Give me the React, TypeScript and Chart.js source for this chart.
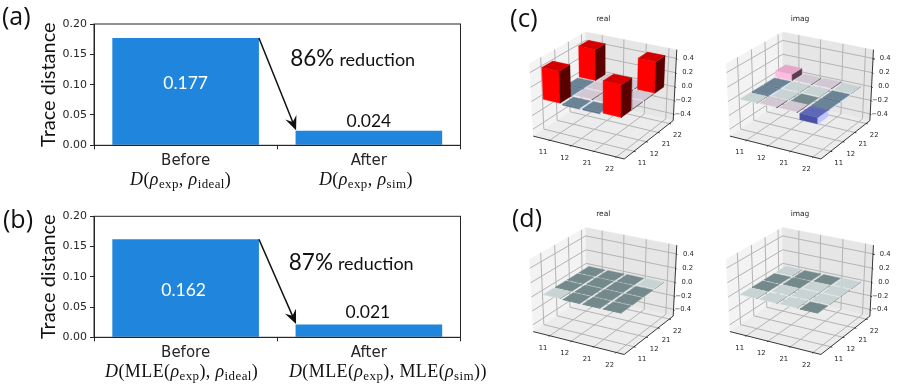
import { useEffect, useRef } from "react";
import { Chart, registerables } from "chart.js";

Chart.register(...registerables);

const categories = ["Before", "After"];
const traceA = [0.177, 0.024];
const traceB = [0.162, 0.021];
const basisLabels = ["11", "12", "21", "22"];
const zTicks = [-0.4, -0.2, 0, 0.2, 0.4];

// matrices indexed [x][y]
const realC = [
  [0.44, -0.02, -0.02, 0.44],
  [-0.02, 0.012, 0.012, 0.012],
  [-0.02, 0.012, 0.012, 0.012],
  [0.44, 0.012, 0.012, 0.44],
];
const imagC = [
  [0.003, -0.02, -0.02, 0.09],
  [0.012, 0.003, 0.003, 0.012],
  [0.012, -0.005, 0.003, 0.012],
  [-0.09, -0.02, -0.02, 0.003],
];
const realD = [
  [0.003, -0.005, -0.005, -0.005],
  [-0.005, -0.005, -0.005, -0.005],
  [-0.005, -0.005, -0.005, -0.005],
  [-0.005, -0.005, -0.005, 0.003],
];
const imagD = [
  [0.003, -0.005, -0.005, 0.003],
  [0.003, 0.003, -0.005, -0.005],
  [0.003, 0.003, 0.003, -0.005],
  [-0.005, 0.003, 0.003, 0.003],
];
const tickPositions = [0.75, 1.72, 2.7, 3.67];

const BAR = "#2085dd";
const INK = "#262626";
const SANS = 'Lato, "Open Sans", sans-serif';
const OPEN = '"Open Sans", sans-serif';
const DEJAVU = '"DejaVu Sans", sans-serif';
const SERIF = '"Liberation Serif", serif';

type Run = { t: string; i?: boolean; sub?: boolean };

function drawRuns(ctx: any, runs: Run[], cx: number, base: number, size: number) {
  const fontOf = (r: Run) =>
    `${r.i ? "italic " : ""}${r.sub ? size * 0.72 : size}px ${SERIF}`;
  ctx.letterSpacing = "0.4px";
  let w = 0;
  for (const r of runs) {
    ctx.font = fontOf(r);
    w += ctx.measureText(r.t).width;
  }
  let x = cx - w / 2;
  ctx.textAlign = "left";
  ctx.textBaseline = "alphabetic";
  ctx.fillStyle = "#111";
  for (const r of runs) {
    ctx.font = fontOf(r);
    ctx.fillText(r.t, x, base + (r.sub ? 3 : 0));
    x += ctx.measureText(r.t).width;
  }
  ctx.letterSpacing = "0px";
}

const rho = (s: string): Run[] => [
  { t: "ρ", i: true },
  { t: s, sub: true },
];
const mle = (inner: Run[]): Run[] => [{ t: "MLE(" }, ...inner, { t: ")" }];
const math = (a: Run[], b: Run[]): Run[] => [
  { t: "D", i: true },
  { t: "(" },
  ...a,
  { t: ", " },
  ...b,
  { t: ")" },
];

type BarPanel = {
  values: number[];
  letter: string;
  letterSize: number;
  letterX: number;
  letterY: number;
  percent: string;
  pctAt: [number, number];
  valueBaselines: [number, number];
  valueX: [number, number];
  math: [Run[], Run[]];
  mathX: [number, number];
  mathBase: number;
  xHeight: number;
  top: number;
};

const panelA: BarPanel = {
  values: traceA,
  letter: "(a)",
  letterSize: 25,
  letterX: 2,
  letterY: 25,
  percent: "86%",
  pctAt: [0.571, 0.1307],
  valueBaselines: [0.0933, 0.0306],
  valueX: [0, 0],
  math: [math(rho("exp"), rho("ideal")), math(rho("exp"), rho("sim"))],
  mathX: [-5, -3],
  mathBase: 185,
  xHeight: 49.7,
  top: 24,
};
const panelB: BarPanel = {
  values: traceB,
  letter: "(b)",
  letterSize: 25,
  letterX: 3,
  letterY: 33,
  percent: "87%",
  pctAt: [0.563, 0.111],
  valueBaselines: [0.0683, 0.0319],
  valueX: [-2, -1],
  math: [
    math(mle(rho("exp")), rho("ideal")),
    math(mle(rho("exp")), mle(rho("sim"))),
  ],
  mathX: [-4, 19],
  mathBase: 182,
  xHeight: 46.7,
  top: 21.3,
};

function barConfig(p: BarPanel): any {
  const overlay = {
    id: "overlay",
    afterDraw(chart: any) {
      const { ctx, chartArea: a, scales } = chart;
      const { x, y } = scales;
      ctx.save();
      ctx.strokeStyle = INK;
      ctx.lineWidth = 1;
      ctx.strokeRect(a.left, a.top, a.right - a.left, a.bottom - a.top);

      // arrow between the two bars
      const sx = x.getPixelForValue(0.4);
      const sy = y.getPixelForValue(p.values[0]);
      const ex = x.getPixelForValue(0.6) + 0.5;
      const ey = y.getPixelForValue(p.values[1]) - 0.5;
      const ang = Math.atan2(ey - sy, ex - sx);
      const at = (d: number, o: number) => [
        ex - d * Math.cos(ang) - o * Math.sin(ang),
        ey - d * Math.sin(ang) + o * Math.cos(ang),
      ];
      ctx.strokeStyle = "#111";
      ctx.lineWidth = 1.5;
      ctx.beginPath();
      ctx.moveTo(sx, sy);
      const [nx, ny] = at(6, 0);
      ctx.lineTo(nx, ny);
      ctx.stroke();
      ctx.fillStyle = "#111";
      ctx.beginPath();
      ctx.moveTo(ex, ey);
      const [b1x, b1y] = at(14, 6);
      const [b2x, b2y] = at(14, -6);
      const [mx, my] = at(9, 0);
      ctx.lineTo(b1x, b1y);
      ctx.lineTo(mx, my);
      ctx.lineTo(b2x, b2y);
      ctx.closePath();
      ctx.fill();

      // value labels
      ctx.textBaseline = "alphabetic";
      ctx.textAlign = "center";
      ctx.font = `17.5px ${SANS}`;
      ctx.fillStyle = "#ffffff";
      ctx.fillText(
        p.values[0].toFixed(3),
        x.getPixelForValue(0) + p.valueX[0],
        y.getPixelForValue(p.valueBaselines[0])
      );
      ctx.fillStyle = "#111";
      ctx.fillText(
        p.values[1].toFixed(3),
        x.getPixelForValue(1) + p.valueX[1],
        y.getPixelForValue(p.valueBaselines[1])
      );

      // reduction note
      ctx.textAlign = "left";
      const nX = x.getPixelForValue(p.pctAt[0]);
      const nY = y.getPixelForValue(p.pctAt[1]);
      ctx.font = `22.5px ${SANS}`;
      ctx.fillText(p.percent, nX, nY);
      const w = ctx.measureText(p.percent).width;
      ctx.font = `18px ${SANS}`;
      ctx.fillText("reduction", nX + w + 5, nY);

      // second line of the category labels
      p.math.forEach((runs, i) =>
        drawRuns(ctx, runs, x.getPixelForTick(i) + p.mathX[i], p.mathBase, 18)
      );

      // panel letter
      ctx.fillStyle = "#111";
      ctx.font = `${p.letterSize}px ${OPEN}`;
      ctx.fillText(p.letter, p.letterX, p.letterY);
      ctx.restore();
    },
  };
  return {
    type: "bar",
    data: {
      labels: categories,
      datasets: [
        {
          data: p.values,
          backgroundColor: BAR,
          barPercentage: 0.8,
          categoryPercentage: 1,
        },
      ],
    },
    plugins: [overlay],
    options: {
      responsive: false,
      animation: false,
      layout: { padding: { top: p.top, right: 39.5, left: 0, bottom: 0 } },
      plugins: { legend: { display: false }, tooltip: { enabled: false } },
      scales: {
        x: {
          afterFit: (s: any) => {
            s.height = p.xHeight;
          },
          grid: { drawOnChartArea: false, tickLength: 4, color: INK },
          border: { color: INK },
          ticks: {
            font: { family: DEJAVU, size: 15 },
            color: INK,
            padding: 3,
            maxRotation: 0,
          },
        },
        y: {
          min: 0,
          max: 0.2,
          afterFit: (s: any) => {
            s.width = 94;
          },
          grid: { drawOnChartArea: false, tickLength: 4, color: INK },
          border: { color: INK },
          title: {
            display: true,
            text: "Trace distance",
            color: "#111",
            font: { family: SANS, size: 20 },
            padding: { top: 37, bottom: 0 },
          },
          ticks: {
            stepSize: 0.05,
            font: { family: DEJAVU, size: 11 },
            color: INK,
            padding: 3,
            callback: (v: number) => v.toFixed(2),
          },
        },
      },
    },
  };
}

// view of the 3D boxes: elevation 30, azimuth -60, camera distance 10
const EL = (30 * Math.PI) / 180;
const AZ = (-60 * Math.PI) / 180;
const VIEW_N = [Math.cos(EL) * Math.cos(AZ), Math.cos(EL) * Math.sin(AZ), Math.sin(EL)];
const VIEW_R = [-Math.sin(AZ), Math.cos(AZ), 0];
const VIEW_U = [-Math.sin(EL) * Math.cos(AZ), -Math.sin(EL) * Math.sin(AZ), Math.cos(EL)];
const CAM = 10;
const KX = 1050;
const KY = 810;
const PITCH = 0.87;
const CELL = 0.75;
const BASE_Z = 0.014;

const dot = (a: number[], b: number[]) => a[0] * b[0] + a[1] * b[1] + a[2] * b[2];
const norm = (x: number, y: number, z: number) => [x / 4 - 0.5, y / 4 - 0.5, z];
const cellCentre = (i: number) => 2 + (i - 1.5) * PITCH;
function project(x: number, y: number, z: number) {
  const p = norm(x, y, z);
  const d = CAM - dot(p, VIEW_N);
  return { x: dot(p, VIEW_R) / d, y: dot(p, VIEW_U) / d };
}

type Facet = [string, string, string];
function shades(v: number): Facet {
  // [top, y-side, x-side]
  if (v < -0.05) return ["#5f68b6", "#4a52a6", "#c0c4ff"];
  if (v < -0.012) return ["#6a8496", "#56708a", "#d5e2ff"];
  if (v < -0.001) return ["#73898b", "#5d7576", "#d8e4e4"];
  if (v < 0.006) return ["#c8d4d3", "#e8f2f0", "#4b5757"];
  if (v < 0.05) return ["#d2c8d3", "#f0e6f0", "#4a454a"];
  if (v < 0.2) return ["#e6a8ca", "#ffbde0", "#5a3c50"];
  return ["#d40000", "#ff0000", "#5a0000"];
}

type P3 = [number, number, number];
const polyline = (pts: P3[], color: string, width: number) => ({
  data: pts.map((p) => project(...p)),
  borderColor: color,
  borderWidth: width,
  showLine: true,
  pointRadius: 0,
  tension: 0,
  clip: false,
});
const polygon = (pts: P3[], color: string) => ({
  ...polyline([...pts, pts[0]], color, 0.4),
  polyColor: color,
});

function scene(m: number[][]) {
  const z0 = -0.5;
  const z1 = 0.52;
  const list: any[] = [];
  list.push(polygon([[0, 0, z0], [0, 4, z0], [0, 4, z1], [0, 0, z1]], "#f3f3f3"));
  list.push(polygon([[0, 4, z0], [4, 4, z0], [4, 4, z1], [0, 4, z1]], "#e6e6e6"));
  list.push(polygon([[0, 0, z0], [4, 0, z0], [4, 4, z0], [0, 4, z0]], "#ececec"));
  const GRID = "#b4b4b4";
  for (const t of tickPositions) {
    list.push(polyline([[t, 0, z0], [t, 4, z0], [t, 4, z1]], GRID, 1));
    list.push(polyline([[4, t, z0], [0, t, z0], [0, t, z1]], GRID, 1));
  }
  zTicks.forEach((z) =>
    list.push(polyline([[0, 0, z], [0, 4, z], [4, 4, z]], GRID, 1))
  );
  const AX = "#222";
  list.push(polyline([[0, 0, z0], [4, 0, z0], [4, 4, z0]], AX, 0.9));
  list.push(polyline([[4, 4, z0], [4, 4, z1]], AX, 0.9));
  for (const t of tickPositions) {
    list.push(polyline([[t, 0, z0], [t, -0.07, z0]], AX, 0.9));
    list.push(polyline([[4, t, z0], [4.07, t, z0]], AX, 0.9));
  }
  zTicks.forEach((z) =>
    list.push(polyline([[4, 4, z], [4.08, 3.92, z]], AX, 0.9))
  );

  const bars: { depth: number; x: number; y: number; v: number }[] = [];
  m.forEach((row, x) =>
    row.forEach((v, y) => {
      const c = norm(cellCentre(x), cellCentre(y), v / 2);
      bars.push({ depth: dot(c, VIEW_N), x, y, v });
    })
  );
  bars.sort((a, b) => a.depth - b.depth);
  for (const b of bars) {
    const x0 = cellCentre(b.x) - CELL / 2;
    const x1 = cellCentre(b.x) + CELL / 2;
    const y0 = cellCentre(b.y) - CELL / 2;
    const y1 = cellCentre(b.y) + CELL / 2;
    const lo = BASE_Z + Math.min(0, b.v);
    const hi = BASE_Z + Math.max(0, b.v);
    const [top, ySide, xSide] = shades(b.v);
    list.push(polygon([[x0, y0, lo], [x1, y0, lo], [x1, y0, hi], [x0, y0, hi]], ySide));
    list.push(polygon([[x1, y0, lo], [x1, y1, lo], [x1, y1, hi], [x1, y0, hi]], xSide));
    list.push(polygon([[x0, y0, hi], [x1, y0, hi], [x1, y1, hi], [x0, y1, hi]], top));
  }
  return list.reverse();
}

type Box = {
  matrix: number[][];
  title: string;
  originX: number;
  originY: number;
  width: number;
  height: number;
  titleX: number;
  letter?: string;
  letterSize?: number;
  letterX?: number;
  letterY?: number;
};

function boxConfig(b: Box): any {
  const paint = {
    id: "paint",
    beforeDatasetDraw(chart: any, args: any) {
      const ds = chart.data.datasets[args.index];
      if (!ds.polyColor) return;
      const pts = chart.getDatasetMeta(args.index).data;
      const ctx = chart.ctx;
      ctx.save();
      ctx.fillStyle = ds.polyColor;
      ctx.beginPath();
      pts.forEach((p: any, i: number) =>
        i ? ctx.lineTo(p.x, p.y) : ctx.moveTo(p.x, p.y)
      );
      ctx.closePath();
      ctx.fill();
      ctx.restore();
    },
    afterDraw(chart: any) {
      const { ctx, scales } = chart;
      const at = (x: number, y: number, z: number) => {
        const p = project(x, y, z);
        return [scales.x.getPixelForValue(p.x), scales.y.getPixelForValue(p.y)];
      };
      ctx.save();
      ctx.fillStyle = "#262626";
      ctx.textBaseline = "middle";
      ctx.textAlign = "center";
      ctx.font = `7.5px ${DEJAVU}`;
      ctx.fillText(b.title, b.titleX, 19);
      ctx.font = `6.8px ${DEJAVU}`;
      basisLabels.forEach((lab, i) => {
        const t = tickPositions[i];
        const [ax, ay] = at(t, 0, -0.5);
        ctx.fillText(lab, ax - 6.7, ay + 12.3);
        const [bx, by] = at(4, t, -0.5);
        ctx.fillText(lab, bx + 8, by + 12);
      });
      ctx.textAlign = "right";
      zTicks.forEach((z) => {
        const [zx, zy] = at(4, 4, z);
        const txt = (z < 0 ? "\u2212" : "") + Math.abs(z).toFixed(1);
        ctx.fillText(txt, zx + 17.5, zy);
      });
      if (b.letter) {
        ctx.textAlign = "left";
        ctx.textBaseline = "alphabetic";
        ctx.fillStyle = "#111";
        ctx.font = `${b.letterSize}px ${OPEN}`;
        ctx.fillText(b.letter, b.letterX, b.letterY);
      }
      ctx.restore();
    },
  };
  return {
    type: "scatter",
    data: { datasets: scene(b.matrix) },
    plugins: [paint],
    options: {
      responsive: false,
      animation: false,
      layout: { padding: 0 },
      plugins: { legend: { display: false }, tooltip: { enabled: false } },
      scales: {
        x: {
          type: "linear",
          display: false,
          min: -b.originX / KX,
          max: (b.width - b.originX) / KX,
        },
        y: {
          type: "linear",
          display: false,
          min: (b.originY - b.height) / KY,
          max: b.originY / KY,
        },
      },
    },
  };
}

function Panel({ cfg, left, top, width, height }: any) {
  const ref = useRef<HTMLCanvasElement>(null);
  useEffect(() => {
    const chart = new Chart(ref.current as any, cfg);
    return () => chart.destroy();
  }, []);
  return (
    <canvas
      ref={ref}
      width={width}
      height={height}
      style={{
        position: "absolute",
        left,
        top,
        width,
        height,
        display: "block",
        filter: "blur(0.35px)",
      }}
    />
  );
}

export default function App() {
  const h = 189;
  return (
    <div
      style={{
        position: "fixed",
        left: 0,
        top: 0,
        width: 897,
        height: 384,
        background: "#fff",
        overflow: "hidden",
      }}
    >
      <Panel cfg={barConfig(panelA)} left={0} top={0} width={500} height={195} />
      <Panel cfg={barConfig(panelB)} left={0} top={195} width={500} height={h} />
      <Panel
        cfg={boxConfig({ matrix: realC, title: "real", originX: 99.3, originY: 94, width: 195, height: h, titleX: 98.3, letter: "(c)", letterSize: 26, letterX: 5, letterY: 27 })}
        left={505}
        top={0}
        width={195}
        height={h}
      />
      <Panel
        cfg={boxConfig({ matrix: imagC, title: "imag", originX: 101, originY: 94, width: 197, height: h, titleX: 100 })}
        left={700}
        top={0}
        width={197}
        height={h}
      />
      <Panel
        cfg={boxConfig({ matrix: realD, title: "real", originX: 99.3, originY: 94.5, width: 195, height: h, titleX: 98.3, letter: "(d)", letterSize: 25, letterX: 7, letterY: 32 })}
        left={505}
        top={195}
        width={195}
        height={h}
      />
      <Panel
        cfg={boxConfig({ matrix: imagD, title: "imag", originX: 101, originY: 94.5, width: 197, height: h, titleX: 100 })}
        left={700}
        top={195}
        width={197}
        height={h}
      />
    </div>
  );
}
